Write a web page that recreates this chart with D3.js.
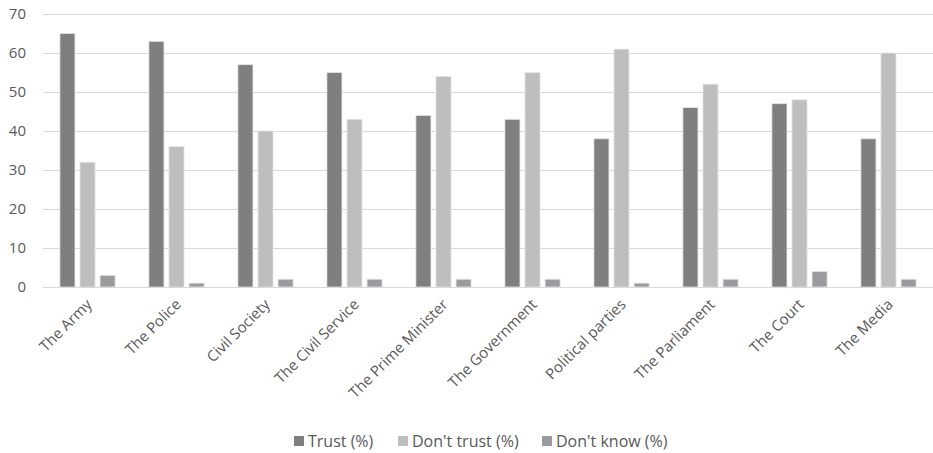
<!DOCTYPE html>
<html>
<head>
<meta charset="utf-8">
<script src="https://cdn.jsdelivr.net/npm/d3@7"></script>
<style>
  body { margin: 0; background: #fff; }
  svg { display: block; }
  svg text { font-family: "Open Sans", "Liberation Sans", sans-serif; }
</style>
</head>
<body>
<div id="chart"></div>
<script>
var categories = ["The Army", "The Police", "Civil Society", "The Civil Service", "The Prime Minister",
  "The Government", "Political parties", "The Parliament", "The Court", "The Media"];
var seriesNames = ["Trust (%)", "Don't trust (%)", "Don't know (%)"];
var trust = [65, 63, 57, 55, 44, 43, 38, 46, 47, 38];
var dontTrust = [32, 36, 40, 43, 54, 55, 61, 52, 48, 60];
var dontKnow = [3, 1, 2, 2, 2, 2, 1, 2, 4, 2];
var yTicks = [0, 10, 20, 30, 40, 50, 60, 70];
var colours = ["#7f7f80", "#bdbebf", "#999b9e"];

var width = 933, height = 453;
var margin = { top: 14, right: 0, bottom: 166, left: 43 };
var series = [trust, dontTrust, dontKnow];

var svg = d3.select("#chart").append("svg")
  .attr("width", width)
  .attr("height", height);

var x = d3.scaleBand()
  .domain(categories)
  .range([margin.left, width - margin.right])
  .paddingInner(0.38)
  .paddingOuter(0.19);

var xInner = d3.scaleBand()
  .domain(d3.range(series.length))
  .range([0, x.bandwidth()])
  .paddingInner(0.25);

var y = d3.scaleLinear()
  .domain([0, 70])
  .range([height - margin.bottom, margin.top]);

// gridlines
svg.append("g")
  .selectAll("line")
  .data(yTicks)
  .enter().append("line")
  .attr("x1", margin.left)
  .attr("x2", width - margin.right)
  .attr("y1", function(d) { return Math.round(y(d)) + 0.5; })
  .attr("y2", function(d) { return Math.round(y(d)) + 0.5; })
  .attr("stroke", "#d9d9d9")
  .attr("stroke-width", 1);

// y axis labels
var yAxis = d3.axisLeft(y).tickValues(yTicks).tickSize(0).tickPadding(17);
var gy = svg.append("g")
  .attr("transform", "translate(" + margin.left + ",0)")
  .call(yAxis);
gy.select(".domain").remove();
gy.attr("font-family", null);
gy.selectAll("text")
  .attr("fill", "#595959")
  .style("font-size", "15px");

// bars
var groups = svg.append("g")
  .selectAll("g")
  .data(series)
  .enter().append("g")
  .attr("fill", function(d, i) { return colours[i]; });

groups.each(function(values, si) {
  d3.select(this).selectAll("rect")
    .data(values)
    .enter().append("rect")
    .attr("x", function(d, i) { return x(categories[i]) + xInner(si); })
    .attr("width", xInner.bandwidth())
    .attr("y", function(d) { return y(d); })
    .attr("height", function(d) { return y(0) - y(d); })
    .attr("stroke", "#e6e6e6")
    .attr("stroke-width", 0.8);
});

// x axis
var xAxis = d3.axisBottom(x).tickSize(0).tickPadding(8);
var gx = svg.append("g")
  .attr("transform", "translate(0," + y(0) + ")")
  .call(xAxis);
gx.attr("font-family", null);
gx.select(".domain").attr("stroke", "#d9d9d9");
gx.selectAll("text")
  .attr("fill", "#595959")
  .style("font-size", "15px")
  .attr("text-anchor", "end")
  .attr("dy", "0.35em")
  .attr("transform", "translate(-4,9) rotate(-45)");

// legend
var legendX = [294, 398, 542];
var legend = svg.append("g")
  .selectAll("g")
  .data(seriesNames)
  .enter().append("g")
  .attr("transform", function(d, i) { return "translate(" + legendX[i] + ",441)"; });
legend.append("rect")
  .attr("x", 0).attr("y", -5)
  .attr("width", 10).attr("height", 10)
  .attr("fill", function(d, i) { return colours[i]; });
legend.append("text")
  .attr("x", 14)
  .attr("dy", "0.35em")
  .attr("fill", "#595959")
  .style("font-size", "16px")
  .text(function(d) { return d; });
</script>
</body>
</html>
